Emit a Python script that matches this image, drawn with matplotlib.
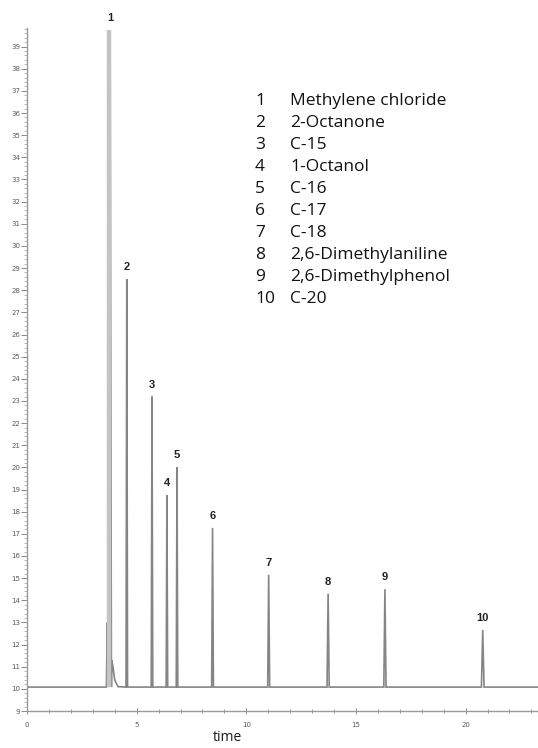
import matplotlib
matplotlib.use("Agg")
import matplotlib.pyplot as plt
from matplotlib.ticker import MultipleLocator

# ---- data ----
peak_ids = ["1", "2", "3", "4", "5", "6", "7", "8", "9", "10"]
peak_rt = [3.79, 4.55, 5.70, 6.38, 6.84, 8.46, 11.02, 13.73, 16.32, 20.78]
peak_height = [39.75, 28.5, 23.2, 18.75, 20.0, 17.27, 15.15, 14.3, 14.5, 12.66]
peak_halfwidth = [0.06, 0.035, 0.035, 0.035, 0.035, 0.04, 0.045, 0.05, 0.05, 0.06]
baseline_level = 10.08
time_range = [0.0, 23.3]

# shoulder / tail features around the solvent peak
shoulder_rt = [3.62, 3.66, 3.70]
shoulder_val = [10.08, 13.0, 10.4]
tail_rt = [3.86, 3.92, 4.0, 4.15]
tail_val = [11.3, 11.0, 10.4, 10.1]

compound_names = ["Methylene chloride", "2-Octanone", "C-15", "1-Octanol", "C-16",
                  "C-17", "C-18", "2,6-Dimethylaniline", "2,6-Dimethylphenol", "C-20"]

# ---- build trace from peak table ----
pts = [(time_range[0], baseline_level)]
pts += list(zip(shoulder_rt, shoulder_val))
pts += list(zip(tail_rt, tail_val))
for rt, h, hw in zip(peak_rt, peak_height, peak_halfwidth):
    pts += [(rt - hw, baseline_level), (rt, h), (rt + hw, baseline_level)]
pts.append((time_range[1], baseline_level))
pts.sort(key=lambda p: p[0])
tx = [p[0] for p in pts]
ty = [p[1] for p in pts]

fig = plt.figure(figsize=(5.38, 7.48), dpi=100)
ax = fig.add_axes([27/538, 1 - 711/748, (538 - 27)/538, (711 - 28)/748])

ax.plot(tx, ty, color="#858585", lw=1.2, solid_joinstyle="miter")
# the saturated solvent peak looks like a broad light band
ax.plot([peak_rt[0] - 0.03, peak_rt[0] - 0.03], [baseline_level, peak_height[0]],
        color="#c4c4c4", lw=3.2, solid_capstyle="butt")

ax.set_xlim(time_range[0], time_range[1])
ax.set_ylim(9, 39.84)

for s in ["top", "right"]:
    ax.spines[s].set_visible(False)
for s in ["left", "bottom"]:
    ax.spines[s].set_color("#9a9a9a")
    ax.spines[s].set_linewidth(1.0)

ax.yaxis.set_major_locator(MultipleLocator(1))
ax.yaxis.set_minor_locator(MultipleLocator(0.2))
ax.xaxis.set_major_locator(MultipleLocator(5))
ax.xaxis.set_minor_locator(MultipleLocator(1))
ax.tick_params(axis="y", which="major", direction="out", length=4, width=0.7,
               color="#8a8a8a", labelsize=5, labelcolor="#5a5a5a", pad=1)
ax.tick_params(axis="y", which="minor", direction="out", length=2, width=0.5, color="#a0a0a0")
ax.tick_params(axis="x", which="major", direction="inout", length=4, width=0.7,
               color="#8a8a8a", labelsize=5, labelcolor="#5a5a5a", pad=6)
ax.tick_params(axis="x", which="minor", direction="inout", length=3, width=0.6, color="#8a8a8a")

ax.set_xlabel("time", fontsize=10, family="Open Sans", color="#1a1a1a", labelpad=9)
ax.xaxis.set_label_coords((227 - 27) / (538 - 27), -0.028)

# peak number labels
for pid, rt, h in zip(peak_ids, peak_rt, peak_height):
    ax.annotate(pid, (rt, h), xytext=(0, 5), textcoords="offset points",
                ha="center", va="bottom", fontsize=8, fontweight="bold",
                family="Liberation Sans", color="#222222")

# compound list
y0 = 101
for i, (pid, name) in enumerate(zip(peak_ids, compound_names)):
    y = 1 - (y0 + i * 22.0) / 748
    fig.text(255 / 538, y, pid, fontsize=12.5, family="Open Sans", color="#111111",
             va="center", ha="left")
    fig.text(290 / 538, y, name, fontsize=12.5, family="Open Sans", color="#111111",
             va="center", ha="left")

fig.savefig("out.png", dpi=100)
